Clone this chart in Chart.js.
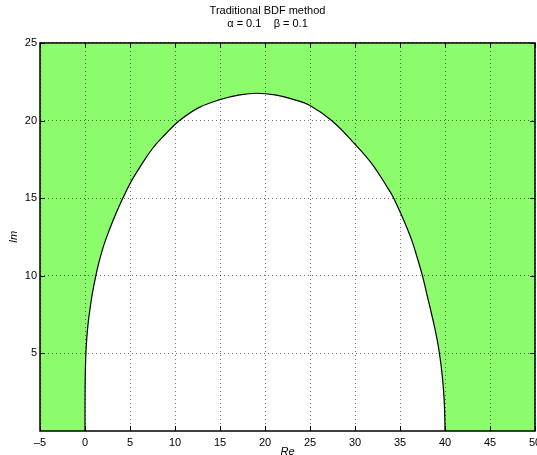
<!DOCTYPE html>
<html>
<head>
<meta charset="utf-8">
<script src="https://cdn.jsdelivr.net/npm/chart.js@4"></script>
<style>
  html, body { margin: 0; padding: 0; background: #fff; }
  #wrap { width: 537px; height: 455px; position: relative; }
</style>
</head>
<body>
<div id="wrap"><canvas id="bdfChart"></canvas></div>
<script>
// boundary of the stability region (left foot -> top -> right foot)
const boundaryRe = [0, 0.003, 0.015, 0.045, 0.1, 0.2, 0.36, 0.54, 0.82, 1.2, 1.52, 2.04, 2.7, 3.45, 4.2, 5.15,
  6.1, 7.5, 8.9, 10.5, 12.7, 15.0, 17.2, 19.1, 21.1, 23.3, 24.9, 27.4, 29.9, 31.9, 33.7, 34.3,
  35.4, 36.3, 37.0, 37.5, 37.96, 38.4, 38.8, 39.15, 39.43, 39.65, 39.81, 39.92, 39.98, 40];
const boundaryIm = [0, 2, 3, 4, 5, 6, 7, 7.8, 8.87, 10, 10.8, 11.88, 12.95, 14.03, 15, 16.1,
  17.0, 18.2, 19.1, 20, 20.85, 21.35, 21.65, 21.76, 21.65, 21.33, 21.0, 20, 18.54, 17.2, 15.6, 15,
  13.6, 12.3, 11.0, 10, 8.87, 7.8, 6.8, 5.8, 4.8, 3.8, 2.8, 1.8, 0.8, 0];

const xTickValues = [-5, 0, 5, 10, 15, 20, 25, 30, 35, 40, 45, 50];
const yTickValues = [5, 10, 15, 20, 25];
const titleLines = ["Traditional BDF method", "α = 0.1    β = 0.1"];

const fillGreen = "#8cfc6c";
const fontFamily = "'Liberation Sans', Arial, Helvetica, sans-serif";

Chart.defaults.font.family = fontFamily;
Chart.defaults.font.size = 11;
Chart.defaults.color = "#000";

// green plane behind everything, the stable region is cut out in white by the dataset fill
const planePlugin = {
  id: "greenPlane",
  beforeDatasetsDraw(chart) {
    const { ctx, chartArea: a } = chart;
    ctx.save();
    ctx.fillStyle = fillGreen;
    ctx.fillRect(a.left, a.top, a.right - a.left, a.bottom - a.top);
    ctx.restore();
  }
};

// matlab style box with inward tick marks
const boxPlugin = {
  id: "matlabBox",
  afterDraw(chart) {
    const { ctx, chartArea: a, scales: { x, y } } = chart;
    ctx.save();
    ctx.strokeStyle = "#000";
    ctx.lineWidth = 1;
    ctx.beginPath();
    x.ticks.forEach(t => {
      const px = Math.round(x.getPixelForValue(t.value)) + 0.5;
      ctx.moveTo(px, a.bottom); ctx.lineTo(px, a.bottom - 5);
      ctx.moveTo(px, a.top); ctx.lineTo(px, a.top + 5);
    });
    y.ticks.forEach(t => {
      const py = Math.round(y.getPixelForValue(t.value)) + 0.5;
      ctx.moveTo(a.left, py); ctx.lineTo(a.left + 5, py);
      ctx.moveTo(a.right, py); ctx.lineTo(a.right - 5, py);
    });
    ctx.stroke();
    ctx.lineWidth = 1.5;
    ctx.strokeRect(a.left, a.top, a.right - a.left, a.bottom - a.top);
    ctx.restore();
  }
};

document.addEventListener("DOMContentLoaded", () => {
  const canvas = document.getElementById("bdfChart");
  const points = boundaryRe.map((re, i) => ({ x: re, y: boundaryIm[i] }));

  const gridOpts = { color: "rgba(0,0,0,0.55)", lineWidth: 1, drawTicks: false, z: 1 };

  new Chart(canvas.getContext("2d"), {
    type: "scatter",
    data: {
      datasets: [{
        data: points,
        showLine: true,
        fill: "origin",
        backgroundColor: "#fff",
        borderColor: "#000",
        borderWidth: 1.2,
        pointRadius: 0,
        tension: 0.4
      }]
    },
    options: {
      responsive: true,
      maintainAspectRatio: false,
      animation: false,
      events: [],
      layout: { padding: { left: 0, right: 2, top: 0, bottom: 0 } },
      plugins: {
        legend: { display: false },
        tooltip: { enabled: false },
        title: {
          display: true,
          text: titleLines,
          color: "#000",
          font: { size: 11, weight: "normal", lineHeight: 1.18 },
          padding: { top: 4.5, bottom: 12.5 }
        }
      },
      scales: {
        x: {
          type: "linear",
          min: -5,
          max: 50,
          afterBuildTicks: s => { s.ticks = xTickValues.map(v => ({ value: v })); },
          afterFit: s => { s.height = 24; s.paddingLeft = 0; s.paddingRight = 0; },
          grid: gridOpts,
          border: { display: false, dash: [1, 3] },
          ticks: {
            color: "#000",
            padding: 5,
            maxRotation: 0,
            autoSkip: false,
            callback: v => (v < 0 ? "\u2013" + Math.abs(v) : String(v))
          },
          title: {
            display: true,
            text: "Re",
            color: "#000",
            font: { size: 11, style: "italic" },
            padding: { top: 0, bottom: -4 }
          }
        },
        y: {
          type: "linear",
          min: 0,
          max: 25,
          afterBuildTicks: s => { s.ticks = yTickValues.map(v => ({ value: v })); },
          afterFit: s => { s.width = 40; s.paddingTop = 0; s.paddingBottom = 0; },
          grid: gridOpts,
          border: { display: false, dash: [1, 3] },
          ticks: { color: "#000", padding: 3 },
          title: {
            display: true,
            text: "Im",
            color: "#000",
            font: { size: 11, style: "italic" },
            padding: { top: 7.4, bottom: 0 }
          }
        }
      }
    },
    plugins: [planePlugin, boxPlugin]
  });
});
</script>
</body>
</html>
